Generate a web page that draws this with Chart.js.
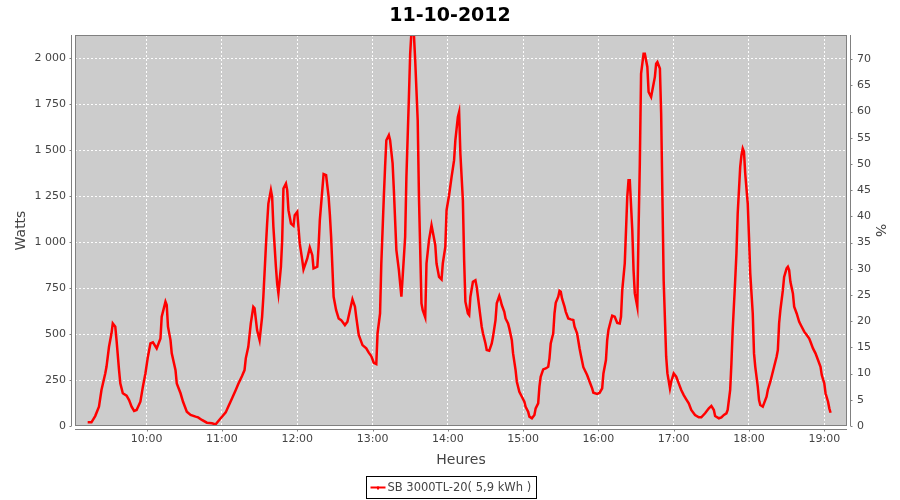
<!DOCTYPE html>
<html>
<head>
<meta charset="utf-8">
<script src="https://cdn.jsdelivr.net/npm/chart.js@4.4.0/dist/chart.umd.min.js"></script>
<style>
  html, body { margin: 0; padding: 0; background: #fff; }
  #wrap { width: 900px; height: 500px; position: relative; }
</style>
</head>
<body>
<div id="wrap"><canvas id="chart"></canvas></div>
<script>
// Production of the SB 3000TL-20 inverter on 11-10-2012, in watts.
const TITLE = '11-10-2012';
const SERIES_LABEL = 'SB 3000TL-20( 5,9 kWh )';

const times = [
  '9:13', '9:16', '9:19', '9:22', '9:24', '9:27', '9:28', '9:30', '9:32', '9:33',
  '9:35', '9:36', '9:38', '9:39', '9:41', '9:44', '9:46', '9:48', '9:50', '9:52',
  '9:55', '9:57', '9:59', '10:01', '10:03', '10:05', '10:08', '10:11', '10:12', '10:15',
  '10:16', '10:17', '10:19', '10:20', '10:23', '10:24', '10:27', '10:29', '10:32', '10:35',
  '10:39', '10:41', '10:44', '10:48', '10:52', '10:55', '10:59', '11:03', '11:05', '11:08',
  '11:11', '11:13', '11:16', '11:18', '11:19', '11:21', '11:23', '11:25', '11:26', '11:28',
  '11:30', '11:32', '11:33', '11:35', '11:36', '11:37', '11:39', '11:40', '11:41', '11:43',
  '11:44', '11:45', '11:47', '11:48', '11:49', '11:51', '11:52', '11:53', '11:55', '11:57',
  '11:58', '12:00', '12:02', '12:04', '12:05', '12:08', '12:10', '12:12', '12:13', '12:16',
  '12:17', '12:18', '12:21', '12:23', '12:25', '12:26', '12:27', '12:29', '12:31', '12:33',
  '12:35', '12:38', '12:40', '12:42', '12:44', '12:46', '12:47', '12:49', '12:52', '12:55',
  '12:57', '12:59', '13:01', '13:03', '13:04', '13:06', '13:07', '13:09', '13:10', '13:11',
  '13:13', '13:14', '13:16', '13:17', '13:19', '13:21', '13:23', '13:24', '13:26', '13:27',
  '13:29', '13:30', '13:32', '13:34', '13:36', '13:37', '13:39', '13:40', '13:42', '13:43',
  '13:45', '13:47', '13:48', '13:50', '13:51', '13:53', '13:55', '13:56', '13:58', '13:59',
  '14:01', '14:03', '14:05', '14:06', '14:08', '14:09', '14:10', '14:12', '14:13', '14:14',
  '14:16', '14:17', '14:18', '14:20', '14:22', '14:23', '14:24', '14:26', '14:27', '14:28',
  '14:30', '14:31', '14:33', '14:35', '14:36', '14:38', '14:39', '14:41', '14:42', '14:43',
  '14:45', '14:46', '14:48', '14:49', '14:51', '14:52', '14:54', '14:55', '14:57', '14:59',
  '15:01', '15:02', '15:04', '15:05', '15:07', '15:09', '15:10', '15:12', '15:13', '15:14',
  '15:16', '15:18', '15:20', '15:21', '15:22', '15:24', '15:25', '15:26', '15:28', '15:29',
  '15:30', '15:31', '15:33', '15:34', '15:36', '15:38', '15:40', '15:41', '15:43', '15:45',
  '15:46', '15:48', '15:51', '15:53', '15:55', '15:56', '15:59', '16:01', '16:03', '16:04',
  '16:06', '16:07', '16:08', '16:10', '16:11', '16:13', '16:15', '16:17', '16:18', '16:19',
  '16:21', '16:23', '16:24', '16:25', '16:27', '16:28', '16:29', '16:31', '16:32', '16:33',
  '16:34', '16:36', '16:37', '16:39', '16:40', '16:42', '16:43', '16:45', '16:46', '16:47',
  '16:49', '16:50', '16:51', '16:52', '16:54', '16:55', '16:57', '16:58', '17:00', '17:02',
  '17:04', '17:06', '17:08', '17:10', '17:12', '17:14', '17:17', '17:20', '17:22', '17:25',
  '17:28', '17:30', '17:32', '17:33', '17:36', '17:38', '17:40', '17:42', '17:43', '17:45',
  '17:46', '17:47', '17:49', '17:50', '17:51', '17:53', '17:54', '17:55', '17:56', '17:57',
  '17:59', '18:00', '18:01', '18:03', '18:04', '18:05', '18:07', '18:08', '18:09', '18:11',
  '18:12', '18:14', '18:15', '18:17', '18:18', '18:20', '18:22', '18:23', '18:24', '18:25',
  '18:27', '18:28', '18:30', '18:31', '18:32', '18:33', '18:35', '18:36', '18:38', '18:40',
  '18:42', '18:44', '18:46', '18:48', '18:49', '18:51', '18:53', '18:55', '18:57', '18:58',
  '19:00', '19:01', '19:03', '19:04', '19:05'
];

const watts = [
  20, 20, 54, 105, 196, 286, 322, 431, 504, 558,
  540, 467, 304, 232, 178, 165, 141, 105, 82, 87,
  132, 214, 286, 377, 449, 455, 422, 476, 594, 676,
  658, 540, 467, 395, 304, 232, 178, 132, 78, 60,
  51, 47, 33, 18, 15, 9, 42, 74, 105, 150,
  196, 228, 272, 304, 368, 431, 558, 648, 640, 522,
  467, 594, 703, 974, 1101, 1210, 1283, 1246, 1083, 866,
  775, 721, 866, 1011, 1292, 1319, 1283, 1174, 1101, 1089,
  1147, 1165, 993, 902, 852, 911, 971, 929, 857, 866,
  974, 1120, 1370, 1364, 1246, 1150, 1029, 703, 630, 585,
  576, 549, 567, 630, 689, 649, 594, 495, 440, 422,
  399, 380, 344, 337, 504, 612, 884, 1246, 1409, 1554,
  1582, 1554, 1428, 1283, 957, 848, 703, 811, 1029, 1355,
  1790, 2025, 2260, 1990, 1663, 1246, 667, 630, 591, 884,
  1011, 1092, 1056, 984, 884, 811, 797, 884, 974, 1174,
  1255, 1355, 1446, 1554, 1681, 1708, 1482, 1228, 902, 676,
  612, 603, 703, 784, 793, 757, 703, 594, 540, 504,
  449, 413, 409, 449, 485, 576, 667, 707, 685, 658,
  621, 585, 558, 531, 467, 395, 304, 241, 186, 159,
  132, 105, 78, 51, 42, 60, 96, 123, 214, 268,
  308, 313, 322, 368, 449, 504, 612, 670, 703, 735,
  730, 694, 649, 621, 585, 580, 576, 540, 504, 422,
  386, 320, 277, 241, 205, 181, 174, 181, 205, 286,
  359, 467, 522, 576, 600, 594, 561, 558, 594, 739,
  884, 1246, 1337, 1337, 1065, 848, 721, 649, 1065, 1428,
  1917, 2025, 2025, 1953, 1817, 1790, 1826, 1899, 1971, 1980,
  1944, 1699, 1246, 793, 377, 286, 205, 241, 286, 268,
  232, 196, 168, 145, 123, 87, 60, 47, 47, 69,
  96, 109, 87, 54, 42, 47, 60, 69, 87, 196,
  341, 522, 793, 939, 1156, 1409, 1473, 1509, 1491, 1373,
  1210, 1029, 830, 612, 395, 322, 214, 141, 114, 105,
  123, 159, 196, 241, 268, 322, 377, 413, 558, 630,
  739, 811, 857, 866, 848, 784, 721, 649, 612, 567,
  540, 513, 495, 476, 458, 422, 395, 359, 322, 277,
  232, 178, 132, 96, 72
];

const hourTicks = ['10:00', '11:00', '12:00', '13:00', '14:00', '15:00', '16:00', '17:00', '18:00', '19:00'];
const wattTicks = [0, 250, 500, 750, 1000, 1250, 1500, 1750, 2000];
const percentTicks = [0, 5, 10, 15, 20, 25, 30, 35, 40, 45, 50, 55, 60, 65, 70];

// axis ranges as shown by the reference (minutes since midnight / W / %)
const X_MIN = 542.9;
const X_MAX = 1158.1;
const WATT_MAX = 2126.7;
const PERCENT_MAX = 74.6;

const LINE_COLOR = '#ff0000';
const PLOT_BG = '#cccccc';
const AXIS_GRAY = '#808080';
const TEXT_GRAY = '#444444';

function toMinutes(s) {
    const [h, m] = s.split(':').map(Number);
    return h * 60 + m;
}

function hourLabel(v) {
    const h = Math.floor(v / 60);
    const m = Math.round(v - h * 60);
    return String(h).padStart(2, '0') + ':' + String(m).padStart(2, '0');
}

function thousands(v) {
    return String(v).replace(/\B(?=(\d{3})+(?!\d))/g, ' ');
}

const tickFont = { family: 'DejaVu Sans', size: 11 };
const axisTitleFont = { family: 'DejaVu Sans', size: 14 };

// JFreeChart-like frame: grey plot, offset axis lines, title and boxed legend
const framePlugin = {
    id: 'frame',
    beforeDraw(chart) {
        const { ctx, chartArea: a } = chart;
        ctx.save();
        ctx.fillStyle = '#ffffff';
        ctx.fillRect(0, 0, chart.width, chart.height);
        ctx.fillStyle = PLOT_BG;
        ctx.fillRect(a.left, a.top, a.right - a.left, a.bottom - a.top);
        ctx.restore();
    },
    afterDraw(chart) {
        const { ctx, chartArea: a, scales } = chart;
        ctx.save();
        ctx.strokeStyle = AXIS_GRAY;
        ctx.lineWidth = 1;
        ctx.strokeRect(a.left + 0.5, a.top + 0.5, a.right - a.left - 1, a.bottom - a.top - 1);

        // offset axis lines with their tick marks
        const lx = a.left - 3.5;
        const rx = a.right + 3.5;
        const by = a.bottom + 3.5;
        ctx.beginPath();
        ctx.moveTo(lx, a.top); ctx.lineTo(lx, a.bottom);
        ctx.moveTo(rx, a.top); ctx.lineTo(rx, a.bottom);
        ctx.moveTo(a.left, by); ctx.lineTo(a.right, by);
        scales.y.ticks.forEach((t) => {
            const p = Math.round(scales.y.getPixelForValue(t.value)) + 0.5;
            ctx.moveTo(lx, p); ctx.lineTo(lx - 2, p);
        });
        scales.y1.ticks.forEach((t) => {
            const p = Math.round(scales.y1.getPixelForValue(t.value)) + 0.5;
            ctx.moveTo(rx, p); ctx.lineTo(rx + 2, p);
        });
        scales.x.ticks.forEach((t) => {
            const p = Math.round(scales.x.getPixelForValue(t.value)) + 0.5;
            ctx.moveTo(p, by); ctx.lineTo(p, by + 2);
        });
        ctx.stroke();

        // title
        ctx.fillStyle = '#000000';
        ctx.font = 'bold 19px "DejaVu Sans"';
        ctx.textAlign = 'center';
        ctx.textBaseline = 'alphabetic';
        ctx.fillText(TITLE, chart.width / 2, 21);

        // legend
        ctx.font = '11.5px "DejaVu Sans"';
        const textW = ctx.measureText(SERIES_LABEL).width;
        const boxW = Math.round(textW + 26);
        const boxX = Math.round(451 - boxW / 2) + 0.5;
        const boxY = 476.5;
        ctx.strokeStyle = '#000000';
        ctx.strokeRect(boxX, boxY, boxW, 22);
        ctx.strokeStyle = LINE_COLOR;
        ctx.lineWidth = 2;
        ctx.beginPath();
        ctx.moveTo(boxX + 4, boxY + 11);
        ctx.lineTo(boxX + 19, boxY + 11);
        ctx.stroke();
        ctx.fillStyle = LINE_COLOR;
        ctx.fillRect(boxX + 10.5, boxY + 10, 2, 3);
        ctx.fillStyle = TEXT_GRAY;
        ctx.textAlign = 'left';
        ctx.textBaseline = 'middle';
        ctx.fillText(SERIES_LABEL, boxX + 21, boxY + 11.5);
        ctx.restore();
    },
};

const points = times.map((t, i) => ({ x: toMinutes(t), y: watts[i] }));

new Chart(document.getElementById('chart'), {
    type: 'line',
    data: {
        datasets: [{
            label: SERIES_LABEL,
            data: points,
            borderColor: LINE_COLOR,
            borderWidth: 2.5,
            pointRadius: 0,
            tension: 0,
            fill: false,
            yAxisID: 'y',
        }],
    },
    options: {
        responsive: true,
        maintainAspectRatio: false,
        animation: false,
        events: [],
        layout: { padding: { top: 35, bottom: 24, left: 0, right: 0 } },
        plugins: {
            legend: { display: false },
            title: { display: false },
            tooltip: { enabled: false },
        },
        scales: {
            x: {
                type: 'linear',
                min: X_MIN,
                max: X_MAX,
                afterBuildTicks: (s) => { s.ticks = hourTicks.map((t) => ({ value: toMinutes(t) })); },
                afterFit: (s) => { s.height = 50; },
                ticks: {
                    autoSkip: false,
                    maxRotation: 0,
                    padding: 7,
                    color: TEXT_GRAY,
                    font: tickFont,
                    callback: (v) => hourLabel(v),
                },
                grid: { color: 'rgba(255,255,255,0.95)', lineWidth: 1, drawTicks: false },
                border: { display: false, dash: [2, 2] },
                title: { display: true, text: 'Heures', color: TEXT_GRAY, font: axisTitleFont, padding: { top: 0, bottom: 7.6 } },
            },
            y: {
                position: 'left',
                min: 0,
                max: WATT_MAX,
                afterBuildTicks: (s) => { s.ticks = wattTicks.map((v) => ({ value: v })); },
                afterFit: (s) => { s.width = 75; },
                ticks: {
                    padding: 9,
                    color: TEXT_GRAY,
                    font: tickFont,
                    callback: (v) => thousands(v),
                },
                grid: { color: 'rgba(255,255,255,0.95)', lineWidth: 1, drawTicks: false },
                border: { display: false, dash: [2, 2] },
                title: { display: true, text: 'Watts', color: TEXT_GRAY, font: axisTitleFont, padding: { top: 12.6, bottom: 0 } },
            },
            y1: {
                position: 'right',
                min: 0,
                max: PERCENT_MAX,
                afterBuildTicks: (s) => { s.ticks = percentTicks.map((v) => ({ value: v })); },
                afterFit: (s) => { s.width = 53; },
                ticks: {
                    padding: 10,
                    color: TEXT_GRAY,
                    font: tickFont,
                },
                grid: { drawOnChartArea: false, drawTicks: false },
                border: { display: false },
                title: { display: true, text: '%', color: TEXT_GRAY, font: axisTitleFont, padding: { top: 11.6, bottom: 0 } },
            },
        },
    },
    plugins: [framePlugin],
});
</script>
</body>
</html>
